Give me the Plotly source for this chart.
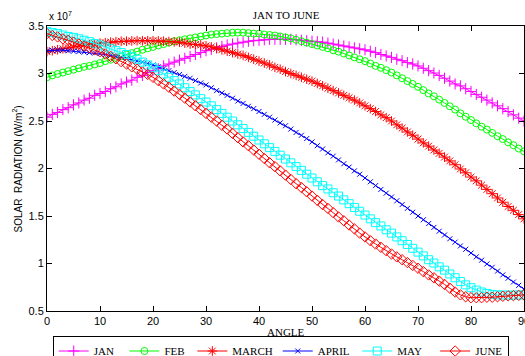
import plotly.graph_objects as go

angles = list(range(0, 91))

jan = [2.54, 2.57, 2.59, 2.62, 2.64, 2.67, 2.69, 2.72, 2.74, 2.77,
       2.79, 2.81, 2.84, 2.86, 2.89, 2.91, 2.93, 2.96, 2.98, 3.01,
       3.03, 3.05, 3.08, 3.10, 3.12, 3.14, 3.16, 3.18, 3.20, 3.22,
       3.24, 3.255, 3.27, 3.285, 3.30, 3.31, 3.32, 3.33, 3.34, 3.345,
       3.35, 3.355, 3.36, 3.36, 3.36, 3.36, 3.36, 3.355, 3.35, 3.345,
       3.34, 3.335, 3.33, 3.32, 3.31, 3.30, 3.29, 3.28, 3.27, 3.26,
       3.25, 3.235, 3.22, 3.20, 3.185, 3.17, 3.15, 3.135, 3.115, 3.10,
       3.08, 3.055, 3.03, 3.005, 2.98, 2.95, 2.92, 2.89, 2.87, 2.84,
       2.81, 2.78, 2.75, 2.72, 2.69, 2.66, 2.63, 2.60, 2.565, 2.53,
       2.50]

feb = [2.96, 2.98, 2.995, 3.01, 3.025, 3.04, 3.055, 3.07, 3.08, 3.095,
       3.11, 3.13, 3.145, 3.165, 3.18, 3.20, 3.215, 3.23, 3.25, 3.265,
       3.28, 3.295, 3.31, 3.325, 3.34, 3.35, 3.36, 3.37, 3.38, 3.39,
       3.40, 3.41, 3.415, 3.42, 3.425, 3.43, 3.43, 3.43, 3.425, 3.42,
       3.42, 3.41, 3.405, 3.40, 3.39, 3.38, 3.37, 3.355, 3.34, 3.325,
       3.31, 3.295, 3.28, 3.265, 3.245, 3.23, 3.21, 3.19, 3.17, 3.15,
       3.13, 3.105, 3.08, 3.06, 3.035, 3.01, 2.98, 2.95, 2.92, 2.89,
       2.86, 2.825, 2.79, 2.76, 2.725, 2.69, 2.655, 2.62, 2.58, 2.545,
       2.51, 2.475, 2.44, 2.41, 2.375, 2.34, 2.31, 2.275, 2.245, 2.21,
       2.18]

march = [3.23, 3.24, 3.25, 3.26, 3.27, 3.28, 3.29, 3.30, 3.305, 3.315,
         3.32, 3.325, 3.33, 3.335, 3.34, 3.34, 3.343, 3.345, 3.345, 3.345,
         3.345, 3.343, 3.34, 3.337, 3.333, 3.33, 3.32, 3.31, 3.305, 3.30,
         3.29, 3.28, 3.265, 3.25, 3.235, 3.22, 3.205, 3.19, 3.17, 3.15,
         3.13, 3.11, 3.09, 3.065, 3.045, 3.02, 3.00, 2.98, 2.96, 2.94,
         2.92, 2.895, 2.87, 2.845, 2.82, 2.795, 2.77, 2.745, 2.72, 2.69,
         2.66, 2.63, 2.60, 2.565, 2.535, 2.50, 2.46, 2.425, 2.385, 2.35,
         2.31, 2.27, 2.235, 2.195, 2.16, 2.12, 2.08, 2.04, 1.995, 1.955,
         1.91, 1.87, 1.825, 1.78, 1.735, 1.69, 1.645, 1.60, 1.56, 1.515,
         1.47]

april = [3.24, 3.245, 3.245, 3.245, 3.24, 3.235, 3.23, 3.225, 3.22, 3.215,
         3.21, 3.20, 3.19, 3.18, 3.17, 3.16, 3.145, 3.13, 3.12, 3.105,
         3.09, 3.07, 3.05, 3.03, 3.01, 2.99, 2.97, 2.95, 2.925, 2.90,
         2.88, 2.85, 2.82, 2.795, 2.77, 2.74, 2.71, 2.685, 2.655, 2.63,
         2.60, 2.57, 2.54, 2.51, 2.48, 2.45, 2.415, 2.38, 2.35, 2.315,
         2.28, 2.24, 2.205, 2.165, 2.13, 2.09, 2.05, 2.015, 1.975, 1.94,
         1.90, 1.86, 1.82, 1.78, 1.74, 1.70, 1.66, 1.62, 1.58, 1.54,
         1.50, 1.46, 1.42, 1.38, 1.34, 1.30, 1.26, 1.225, 1.185, 1.15,
         1.11, 1.07, 1.035, 0.995, 0.96, 0.92, 0.88, 0.845, 0.805, 0.77,
         0.73]

may = [3.44, 3.43, 3.42, 3.405, 3.39, 3.38, 3.365, 3.35, 3.335, 3.315,
       3.30, 3.28, 3.26, 3.24, 3.22, 3.20, 3.175, 3.15, 3.12, 3.09,
       3.06, 3.03, 2.995, 2.96, 2.925, 2.89, 2.85, 2.81, 2.775, 2.735,
       2.70, 2.66, 2.62, 2.58, 2.54, 2.50, 2.46, 2.42, 2.38, 2.34,
       2.30, 2.26, 2.22, 2.18, 2.14, 2.10, 2.06, 2.02, 1.98, 1.94,
       1.90, 1.86, 1.82, 1.785, 1.745, 1.71, 1.67, 1.63, 1.59, 1.55,
       1.51, 1.47, 1.43, 1.395, 1.355, 1.32, 1.28, 1.24, 1.20, 1.16,
       1.12, 1.08, 1.04, 1.005, 0.965, 0.93, 0.89, 0.85, 0.81, 0.775,
       0.745, 0.72, 0.70, 0.685, 0.675, 0.67, 0.668, 0.667, 0.667, 0.668,
       0.67]

june = [3.42, 3.40, 3.385, 3.365, 3.35, 3.33, 3.31, 3.29, 3.27, 3.25,
        3.23, 3.205, 3.18, 3.155, 3.125, 3.10, 3.07, 3.045, 3.015, 2.99,
        2.96, 2.925, 2.89, 2.855, 2.815, 2.78, 2.74, 2.70, 2.66, 2.62,
        2.58, 2.54, 2.50, 2.455, 2.415, 2.37, 2.325, 2.28, 2.24, 2.195,
        2.15, 2.105, 2.06, 2.02, 1.975, 1.93, 1.885, 1.84, 1.80, 1.755,
        1.71, 1.665, 1.62, 1.58, 1.535, 1.49, 1.45, 1.405, 1.365, 1.32,
        1.28, 1.24, 1.205, 1.17, 1.135, 1.10, 1.07, 1.04, 1.01, 0.98,
        0.95, 0.915, 0.88, 0.85, 0.815, 0.78, 0.74, 0.70, 0.67, 0.65,
        0.64, 0.64, 0.64, 0.645, 0.645, 0.65, 0.655, 0.66, 0.662, 0.665,
        0.67]

series_names = ["JAN", "FEB", "MARCH", "APRIL", "MAY", "JUNE"]
series_values = [jan, feb, march, april, may, june]
colors = ["#FF00FF", "#00FF00", "#FF0000", "#0000FF", "#00FFFF", "#FF0000"]
symbols = ["cross-thin-open", "circle-open", "asterisk-open", "x-thin-open",
           "square-open", "diamond-open"]
sizes = [8, 7, 8, 5, 8, 8]
name_pad = [2, 1, 0, 1, 3, 0]

fig = go.Figure()
for name, vals, c, s, sz, p in zip(series_names, series_values, colors, symbols, sizes, name_pad):
    fig.add_trace(go.Scatter(
        x=angles, y=vals, name=name + "\u00a0" * p, mode="lines+markers",
        line=dict(color=c, width=1),
        marker=dict(symbol=s, size=sz, color=c, line=dict(color=c, width=1)),
    ))

axis_common = dict(
    showline=True, linecolor="black", linewidth=1, mirror="ticks",
    ticks="inside", ticklen=5, tickcolor="black", tickwidth=1,
    showgrid=False, zeroline=False, ticklabeloverflow="allow",
    tickfont=dict(family="Liberation Sans, Arial", size=11, color="black"),
)

fig.update_layout(
    width=525, height=356,
    margin=dict(l=47, r=1, t=26, b=45, autoexpand=False),
    paper_bgcolor="white", plot_bgcolor="white",
    xaxis=dict(range=[0, 90], dtick=10, **axis_common),
    yaxis=dict(range=[0.5, 3.5], dtick=0.5, **axis_common),
    title=dict(text="JAN TO JUNE", x=0.545, xanchor="center",
               y=1 - 15 / 356, yanchor="middle",
               font=dict(family="Liberation Serif, Times New Roman", size=11, color="black")),
    showlegend=True,
    legend=dict(orientation="h", x=0.012, y=-0.086, xanchor="left", yanchor="top",
                bordercolor="black", borderwidth=1, bgcolor="white",
                font=dict(family="Liberation Serif, Times New Roman", size=11, color="black")),
    annotations=[
        dict(text="x 10<sup>7</sup>", xref="paper", yref="paper", x=0, y=1,
             xanchor="left", yanchor="bottom", yshift=2, showarrow=False,
             font=dict(family="Liberation Sans, Arial", size=10, color="black")),
        dict(text="SOLAR&nbsp; RADIATION (W/m<sup>2</sup>)", xref="paper", yref="paper",
             x=-0.063, y=0.5, xanchor="center", yanchor="middle", textangle=-90,
             showarrow=False,
             font=dict(family="Liberation Sans, Arial", size=10, color="black")),
        dict(text="ANGLE", xref="paper", yref="paper", x=0.5, y=0,
             xanchor="center", yanchor="middle", yshift=-21, showarrow=False,
             font=dict(family="Liberation Serif, Times New Roman", size=11, color="black")),
    ],
)

fig.write_html("out.html")
